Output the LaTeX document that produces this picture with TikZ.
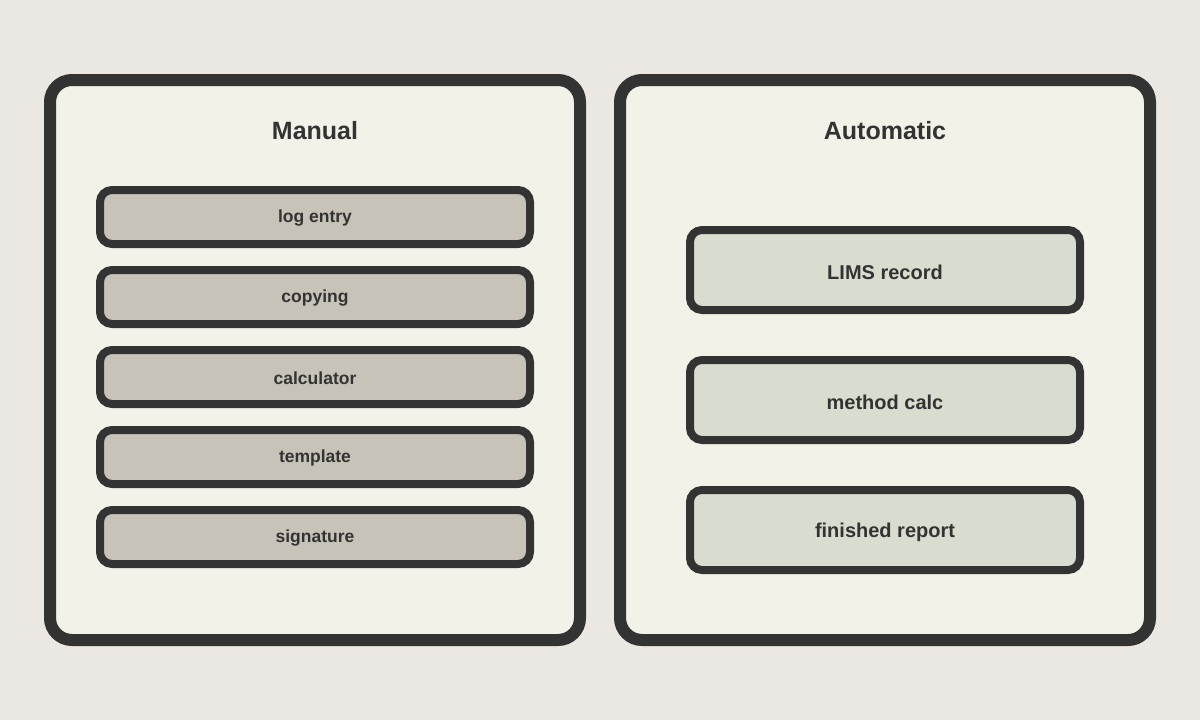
\documentclass[tikz,border=0pt]{standalone}
\usepackage{fontspec}
\setmainfont{Liberation Sans}
\definecolor{bg}{HTML}{EBE8E3}
\definecolor{panel}{HTML}{F3F2E8}
\definecolor{ink}{HTML}{333333}
\definecolor{manfill}{HTML}{C8C3B8}
\definecolor{autofill}{HTML}{D9DDD0}
\begin{document}
\begin{tikzpicture}[x=1pt,y=-1pt,
  panel/.style={draw=ink,line width=12pt,fill=panel,rounded corners=22pt},
  mbox/.style={draw=ink,line width=8pt,fill=manfill,rounded corners=12pt},
  abox/.style={draw=ink,line width=8pt,fill=autofill,rounded corners=12pt},
  title/.style={text=ink,font=\fontsize{25}{30}\selectfont\bfseries},
  mlab/.style={text=ink,font=\fontsize{17.5}{21}\selectfont\bfseries},
  alab/.style={text=ink,font=\fontsize{20}{24}\selectfont\bfseries}]
\fill[bg] (0,0) rectangle (1200,720);
\useasboundingbox (0,0) rectangle (1200,720);
\draw[panel] (50,80) rectangle (580,640);
\draw[panel] (620,80) rectangle (1150,640);
\node[title] (tm) at (315,131) {Manual};
\node[title] (ta) at (885,131) {Automatic};
\foreach \y/\t/\n in {190/log entry/m1,270/copying/m2,350/calculator/m3,430/template/m4,510/signature/m5}{
  \draw[mbox] (100,\y) rectangle (530,\y+54);
  \node[mlab] (\n) at (315,\y+28) {\t};
}
\foreach \y/\t/\n in {230/LIMS record/a1,360/method calc/a2,490/finished report/a3}{
  \draw[abox] (690,\y) rectangle (1080,\y+80);
  \node[alab] (\n) at (885,\y+42) {\t};
}
\end{tikzpicture}
\end{document}
